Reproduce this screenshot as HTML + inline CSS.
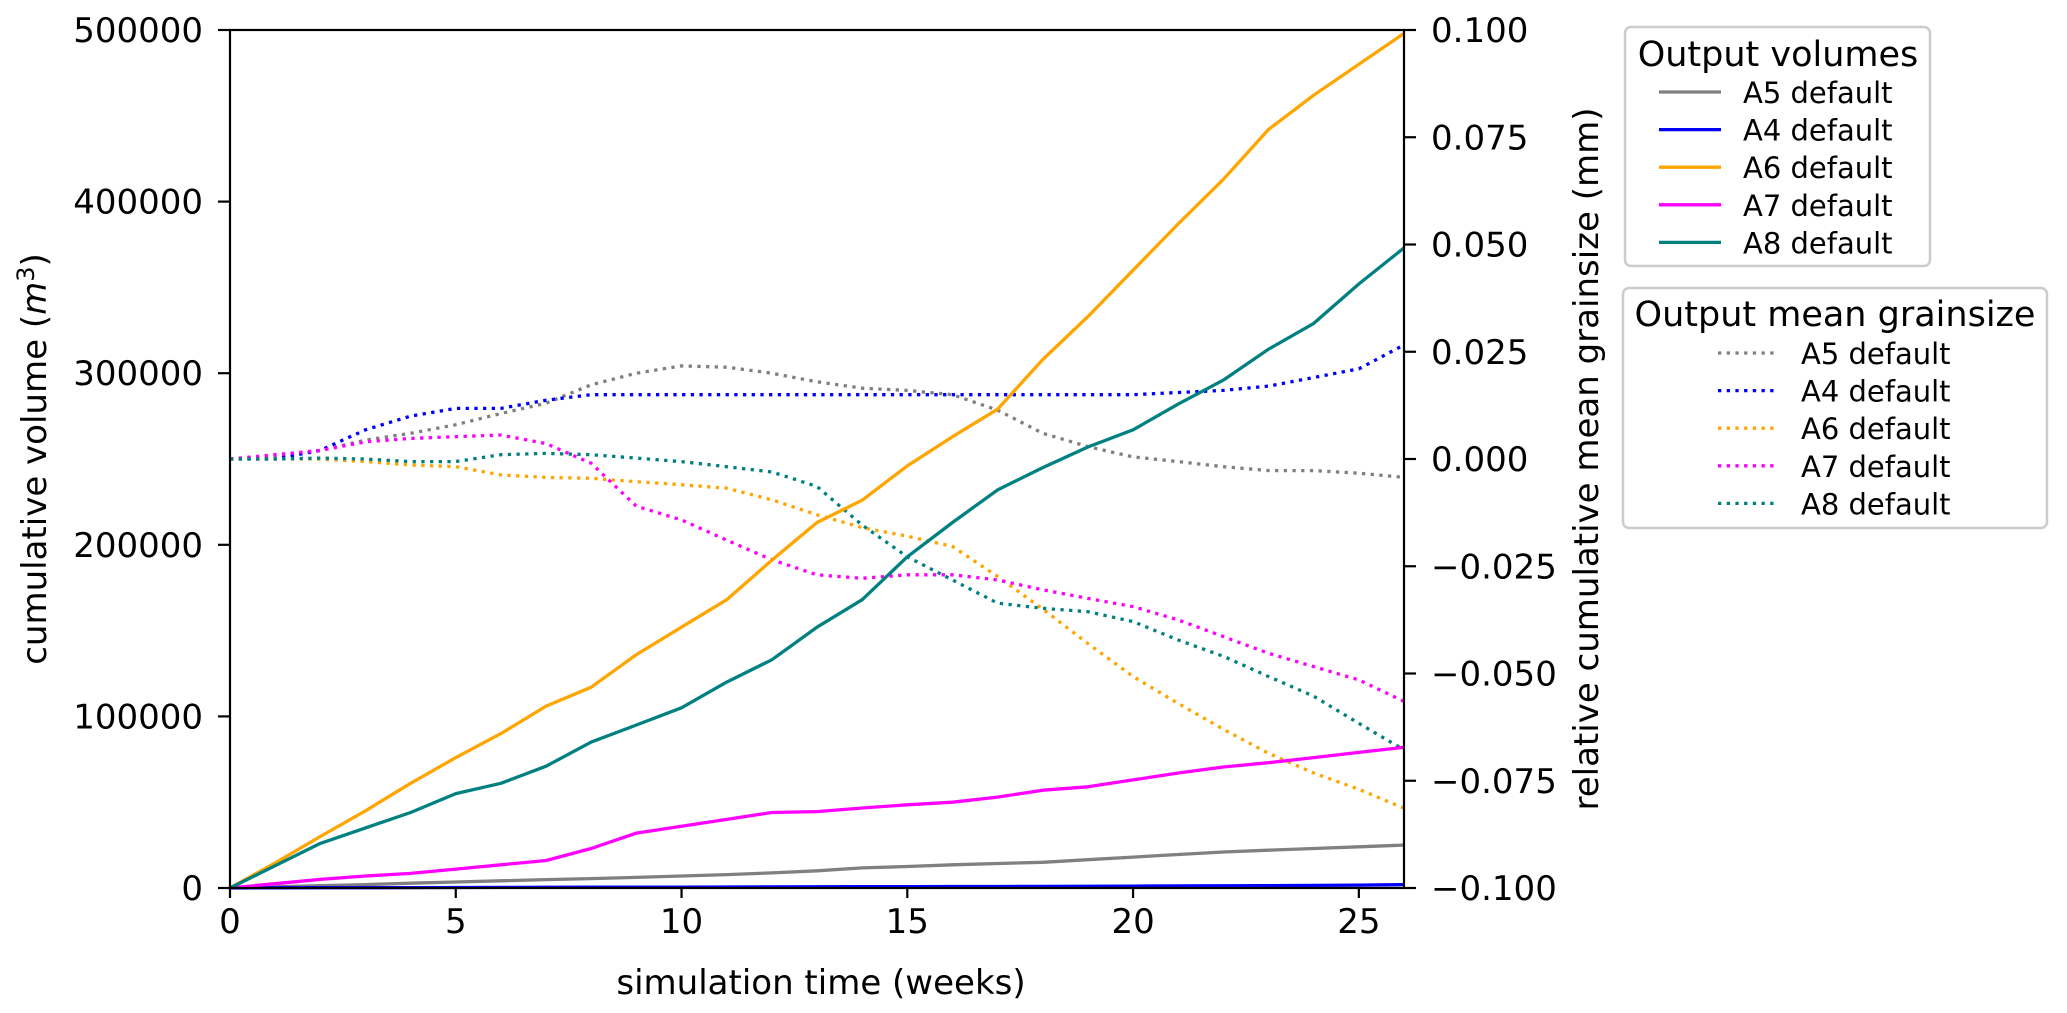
<!DOCTYPE html>
<html><head><meta charset="utf-8"><style>
html,body{margin:0;padding:0;background:#fff;}
svg{display:block;font-family:"DejaVu Sans","Liberation Sans",sans-serif;}
</style></head><body>
<svg id="chart" width="2067" height="1013" viewBox="0 0 2067 1013">
<g id="plot"></g>
<g id="axes"></g>
<g id="legend"></g>
</svg>
<script>
const weeks = [0,1,2,3,4,5,6,7,8,9,10,11,12,13,14,15,16,17,18,19,20,21,22,23,24,25,26];
const xTicks = [0,5,10,15,20,25];
const yLeftTicks = [0,100000,200000,300000,400000,500000];
const yRightTicks = [-0.1,-0.075,-0.05,-0.025,0,0.025,0.05,0.075,0.1];
const yRightLabels = ["\u22120.100","\u22120.075","\u22120.050","\u22120.025","0.000","0.025","0.050","0.075","0.100"];
const seriesNames = ["A5 default","A4 default","A6 default","A7 default","A8 default"];
const seriesColors = ["#808080","#0000ff","#ffa500","#ff00ff","#008080"];
const volA5 = [0,700,1400,2000,2800,3500,4200,4900,5500,6200,7000,7800,8800,10000,11700,12500,13500,14300,15000,16500,18000,19500,21000,22000,23000,24000,25000];
const volA4 = [0,100,150,200,250,300,350,400,450,500,550,600,650,700,750,800,850,900,950,1000,1100,1200,1300,1400,1500,1700,2000];
const volA6 = [0,14600,30000,45000,61000,76000,90000,106000,117000,136000,152000,168000,191000,213000,226000,246000,263000,279000,308000,333000,360000,387000,413000,442000,462000,480000,498000];
const volA7 = [0,2500,5000,7000,8500,11000,13500,16000,23000,32000,36000,40000,44000,44500,46600,48500,50000,53000,57000,59000,63000,67000,70500,73000,76000,79000,82000];
const volA8 = [0,13000,26000,35000,44000,55000,61000,71000,85000,95000,105000,120000,133000,152000,168000,193000,213000,232000,245000,257000,267000,282000,296000,314000,329000,352000,373000];
const gsA5 = [0,0.0005,0.002,0.0044,0.006,0.008,0.0106,0.013,0.0173,0.020,0.0217,0.0214,0.020,0.018,0.0165,0.016,0.015,0.0114,0.006,0.0029,0.0005,-0.0006,-0.0018,-0.0027,-0.0027,-0.0033,-0.0043];
const gsA4 = [0,0,0.002,0.0068,0.010,0.0118,0.0118,0.0137,0.015,0.015,0.015,0.015,0.015,0.015,0.015,0.015,0.015,0.015,0.015,0.015,0.015,0.0155,0.016,0.017,0.019,0.021,0.0266];
const gsA6 = [0,0,0,-0.0006,-0.0014,-0.0018,-0.0037,-0.0043,-0.0045,-0.0053,-0.006,-0.0068,-0.0095,-0.013,-0.016,-0.018,-0.0204,-0.0274,-0.035,-0.043,-0.0507,-0.057,-0.063,-0.0686,-0.0732,-0.077,-0.0814];
const gsA7 = [0,0.001,0.002,0.004,0.0048,0.0052,0.0056,0.0036,-0.001,-0.011,-0.0142,-0.0189,-0.0235,-0.027,-0.0278,-0.027,-0.027,-0.0282,-0.0305,-0.0325,-0.0344,-0.0375,-0.0414,-0.0453,-0.0484,-0.0515,-0.0565];
const gsA8 = [0,0,0.0002,0,-0.0006,-0.0006,0.001,0.0013,0.001,0.0002,-0.0006,-0.0018,-0.003,-0.0064,-0.0154,-0.0228,-0.0282,-0.0336,-0.0348,-0.0356,-0.0379,-0.0422,-0.046,-0.0507,-0.0553,-0.0616,-0.0678];

const L=230,R=1404,T=30,B=888;
const xs = w => L + (w/26)*(R-L);
const yl = v => B - (v/500000)*(B-T);
const yr = g => B - ((g+0.1)/0.2)*(B-T);
const NS="http://www.w3.org/2000/svg";
function mk(tag, attrs, parent){const e=document.createElementNS(NS,tag);for(const k in attrs)e.setAttribute(k,attrs[k]);parent.appendChild(e);return e;}
const plot=document.getElementById('plot'), axes=document.getElementById('axes'), legend=document.getElementById('legend');
function path(vals, yf){return vals.map((v,i)=>(i?'L':'M')+xs(weeks[i]).toFixed(1)+','+yf(v).toFixed(1)).join(' ');}

const vols=[volA5,volA4,volA6,volA7,volA8], gss=[gsA5,gsA4,gsA6,gsA7,gsA8];
const keys=['a5','a4','a6','a7','a8'];
gss.forEach((s,i)=>{
  const p=mk('path',{d:path(s,yr),fill:'none',stroke:seriesColors[i],'stroke-width':3.3,'stroke-dasharray':'3.3,5.4','stroke-linejoin':'round'},plot);
  
  
});
vols.forEach((s,i)=>{
  const p=mk('path',{d:path(s,yl),fill:'none',stroke:seriesColors[i],'stroke-width':3.3,'stroke-linejoin':'round'},plot);
  
  
});

const frame=mk('rect',{x:L,y:T,width:R-L,height:B-T,fill:'none',stroke:'#000','stroke-width':2.2},axes);


xTicks.forEach(t=>{
  const x=xs(t);
  mk('line',{x1:x,y1:B,x2:x,y2:B+10,stroke:'#000','stroke-width':2.2},axes);
  const tx=mk('text',{x:x,y:B+45,'font-size':34,'text-anchor':'middle'},axes);
  tx.textContent=t;
  
  
});
yLeftTicks.forEach(t=>{
  const y=yl(t);
  mk('line',{x1:L-12,y1:y,x2:L,y2:y,stroke:'#000','stroke-width':2.2},axes);
  const tx=mk('text',{x:L-27,y:y+12,'font-size':34,'text-anchor':'end'},axes);
  tx.textContent=t;
  
  
});
yRightTicks.forEach((t,i)=>{
  const y=yr(t);
  mk('line',{x1:R,y1:y,x2:R+12,y2:y,stroke:'#000','stroke-width':2.2},axes);
  const tx=mk('text',{x:R+27,y:y+12,'font-size':34,'text-anchor':'start'},axes);
  tx.textContent=yRightLabels[i];
  
  
});

function box(x,y,w,h,name){const r=mk('rect',{x:x,y:y,width:w,height:h,rx:6,fill:'#fff',stroke:'#cccccc','stroke-width':2.5},legend);}
box(1625,27,305,239,'legend-volumes-box');
box(1623,288,424,240,'legend-grainsize-box');
let t1=mk('text',{x:1778,y:66,'font-size':35,'text-anchor':'middle'},legend);t1.textContent='Output volumes';


let t2=mk('text',{x:1835,y:326,'font-size':35,'text-anchor':'middle'},legend);t2.textContent='Output mean grainsize';


seriesNames.forEach((n,i)=>{
  const y1=92+i*37.6;
  mk('line',{x1:1659,y1:y1,x2:1721,y2:y1,stroke:seriesColors[i],'stroke-width':3.3},legend);
  const a=mk('text',{x:1743,y:y1+11,'font-size':29},legend);a.textContent=n;
  
  
  const y2=353+i*37.6;
  mk('line',{x1:1718,y1:y2,x2:1777,y2:y2,stroke:seriesColors[i],'stroke-width':3.3,'stroke-dasharray':'3.3,5.4'},legend);
  const b=mk('text',{x:1801,y:y2+11,'font-size':29},legend);b.textContent=n;
  
  
});
</script>
<svg style="position:absolute;left:0;top:0" width="2067" height="1013">
<text x="821" y="994" font-size="34" text-anchor="middle" font-family="DejaVu Sans, Liberation Sans, sans-serif">simulation time (weeks)</text>
<text transform="translate(46,459) rotate(-90)" font-size="34" text-anchor="middle" font-family="DejaVu Sans, Liberation Sans, sans-serif">cumulative volume (<tspan font-style="italic">m</tspan><tspan font-size="24" dy="-12">3</tspan><tspan dy="12">)</tspan></text>
<text transform="translate(1598,459) rotate(-90)" font-size="34" text-anchor="middle" font-family="DejaVu Sans, Liberation Sans, sans-serif">relative cumulative mean grainsize (mm)</text>
</svg>
</body></html>
